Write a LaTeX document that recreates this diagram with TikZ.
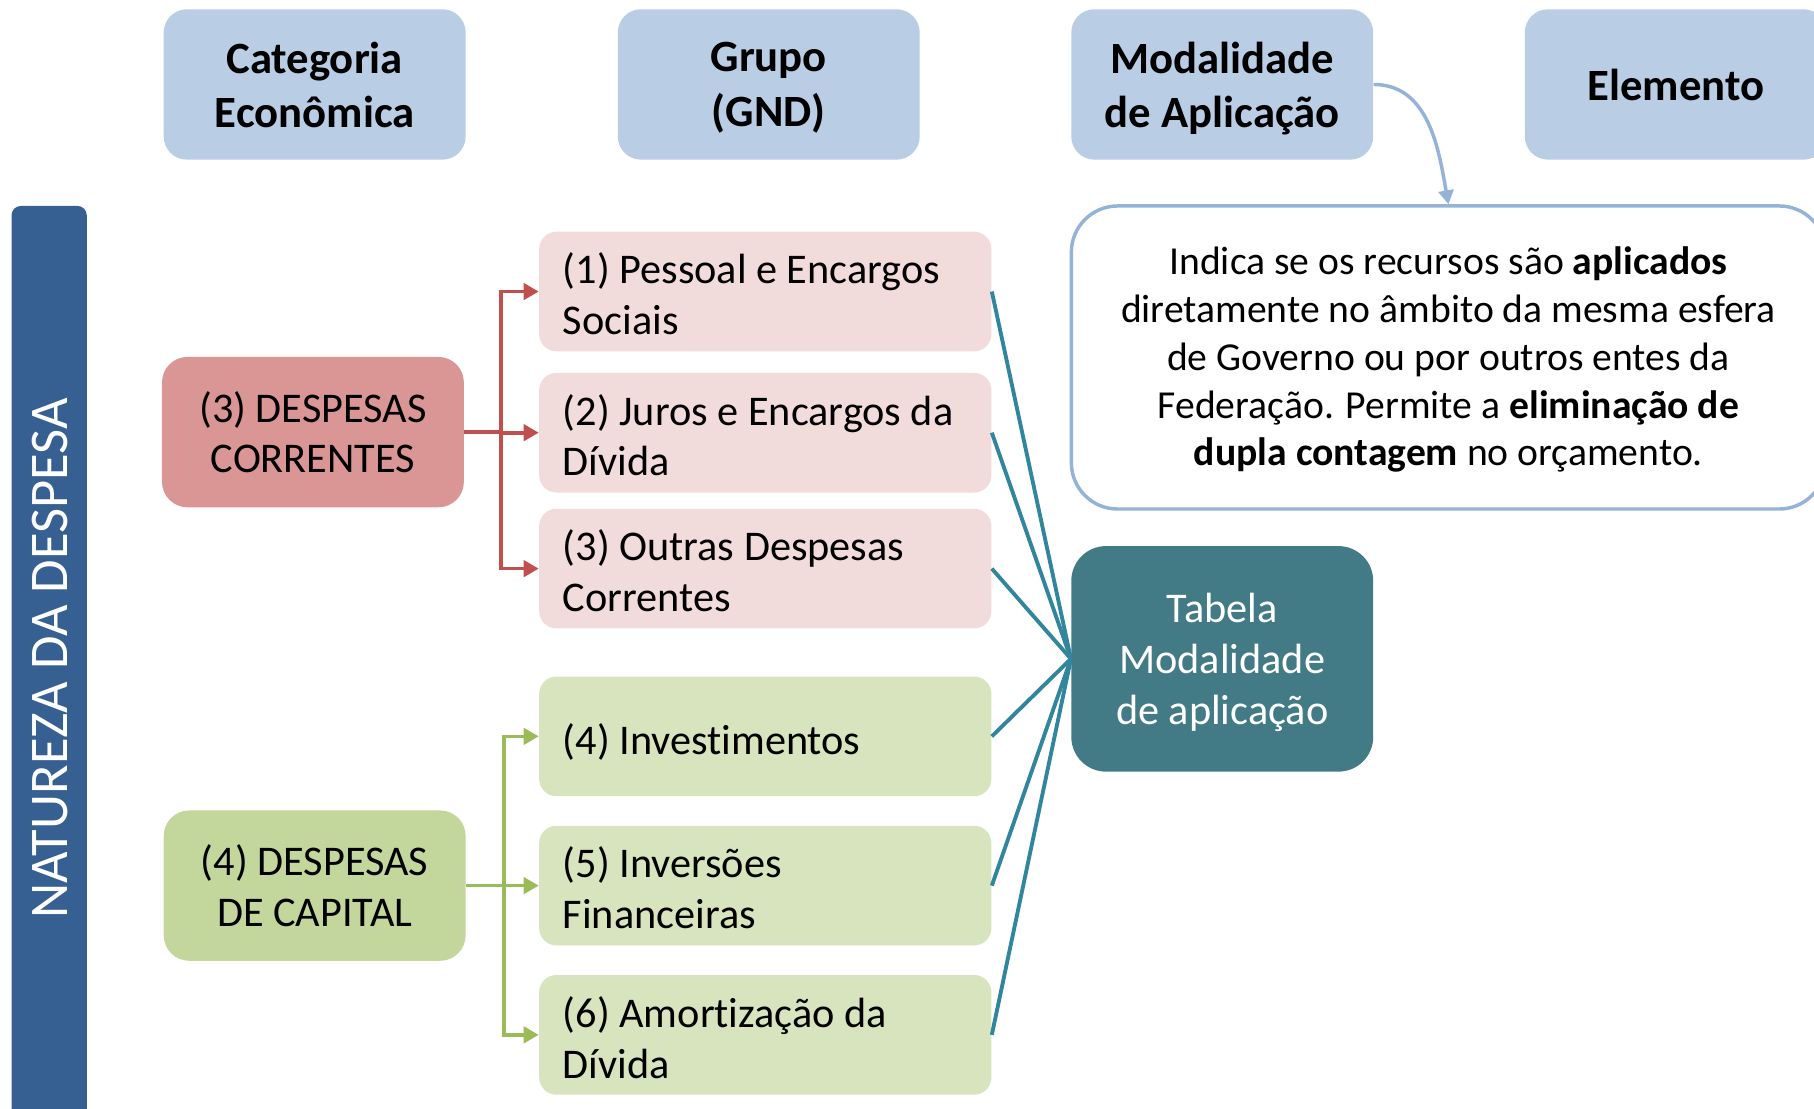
\documentclass[tikz,border=0pt]{standalone}
\usepackage{fontspec}
\setmainfont[Ligatures=NoCommon]{Carlito}
\usetikzlibrary{arrows.meta}
\definecolor{cabec}{HTML}{B9CDE5}
\definecolor{barra}{HTML}{376092}
\definecolor{vermelho}{HTML}{D99694}
\definecolor{rosa}{HTML}{F2DCDB}
\definecolor{verde}{HTML}{C3D69B}
\definecolor{verdeclaro}{HTML}{D7E4BD}
\definecolor{linhavermelha}{HTML}{C0504D}
\definecolor{linhaverde}{HTML}{9BBB59}
\definecolor{linhaazul}{HTML}{31859C}
\definecolor{tabela}{HTML}{427B86}
\definecolor{contorno}{HTML}{95B3D7}
\def\grupobox#1#2#3#4{
	\node[grupo,fill=#2] (#1) at (661.5,#3) {#4};}

\begin{document}
\begin{tikzpicture}[x=0.02cm,y=0.02cm,
	escora/.style={execute at begin node=\rule{0pt}{1.2em},execute at end node=\strut},
	cabecalho/.style={fill=cabec,rounded corners=0.4cm,minimum width=5.22cm,text depth=0pt,
		minimum height=2.6cm,align=center,font=\fontsize{22}{26.7}\selectfont\bfseries},
	categoria/.style={rounded corners=0.44cm,minimum width=5.22cm,
		minimum height=2.6cm,align=center,font=\fontsize{20.8}{25}\selectfont},
	grupo/.style={escora,rounded corners=0.3cm,text width=7cm,inner xsep=0.41cm,
		inner ysep=0pt,minimum height=2.07cm,align=flush left,font=\fontsize{20.8}{25}\selectfont},
	seta/.style={line width=1.8pt,-{Triangle[length=0.26cm,width=0.28cm]}},
	ligacao/.style={draw=linhaazul,line width=1.9pt}]
	\useasboundingbox (0,0) rectangle (1568,-958);
	% cabecalhos
	\node[cabecalho] (cat) at (272,-73) {Categoria\\Econômica};
	\node[cabecalho] (gnd) at (664.5,-73) {Grupo\\(GND)};
	\node[cabecalho] (mod) at (1056.5,-73) {Modalidade\\de Aplicação};
	\node[cabecalho] (ele) at (1448.5,-73) {Elemento};
	
	% barra lateral
	\fill[barra,rounded corners=0.16cm] (10,-178) rectangle (75,-990);
	\node[rotate=90,text=white,font=\fontsize{26.8}{32}\selectfont] (natureza) at (43,-569)
		{NATUREZA DA DESPESA};
	
	\node[categoria,fill=vermelho] (dc) at (270.5,-373.5) {(3) DESPESAS\\CORRENTES};
	\node[categoria,fill=verde] (dk) at (272,-765.5) {(4) DESPESAS\\DE CAPITAL};
	
	\grupobox{g1}{rosa}{-252}{(1) Pessoal e Encargos\\Sociais}
	\grupobox{g2}{rosa}{-374}{(2) Juros e Encargos da\\Dívida}
	\grupobox{g3}{rosa}{-491.5}{(3) Outras Despesas\\Correntes}
	\grupobox{g4}{verdeclaro}{-636.5}{(4) Investimentos}
	\grupobox{g5}{verdeclaro}{-765.5}{(5) Inversões\\Financeiras}
	\grupobox{g6}{verdeclaro}{-894.5}{(6) Amortização da\\Dívida}
	
	\node[fill=tabela,text=white,rounded corners=0.6cm,minimum width=5.22cm,text depth=0pt,
		minimum height=3.9cm,align=center,font=\fontsize{20.8}{25}\selectfont]
		(tab) at (1056.5,-569.5) {Tabela\\Modalidade\\de aplicação};
	
	% caixa de texto da modalidade
	\node[draw=contorno,line width=1.7pt,fill=white,rounded corners=0.8cm,text depth=1pt,
		minimum width=13.04cm,minimum height=5.24cm,align=center,
		font=\fontsize{19.5}{23.5}\selectfont] (desc) at (1252,-309)
		{Indica se os recursos são \textbf{aplicados}\\
			diretamente no âmbito da mesma esfera\\
			de Governo ou por outros entes da\\
			Federação. Permite a \textbf{eliminação de}\\
			\textbf{dupla contagem} no orçamento.};
	
	\foreach \g in {g1,g2,g3}
		\draw[seta,linhavermelha] (dc.east) -- ++(32,0) |- (\g.west);
	\foreach \g in {g4,g5,g6}
		\draw[seta,linhaverde] (dk.east) -- ++(33,0) |- (\g.west);
	\foreach \g in {g1,g2,g3,g4,g5,g6}
		\draw[ligacao] (\g.east) -- (tab.west);
	
	\draw[contorno,line width=1.7pt,-{Triangle[length=0.24cm,width=0.26cm]}]
		(mod.east) to[out=0,in=100] (desc.north);
\end{tikzpicture}
\end{document}
